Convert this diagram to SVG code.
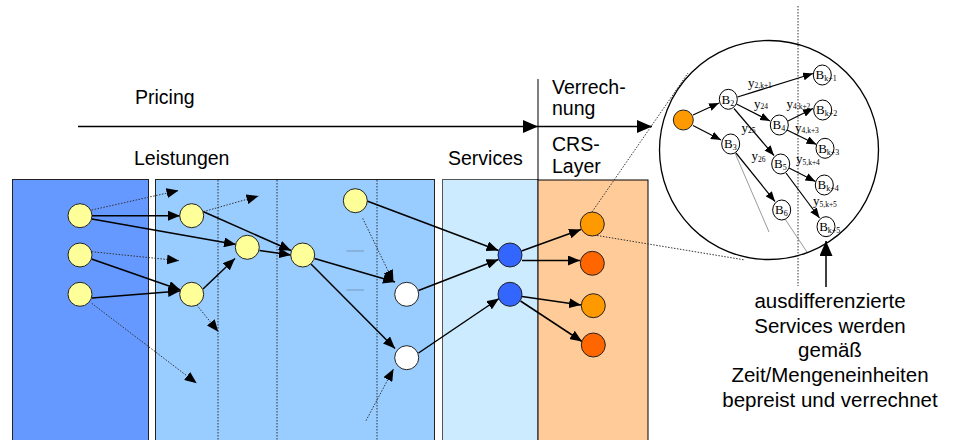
<svg xmlns="http://www.w3.org/2000/svg" width="954" height="440" viewBox="0 0 954 440">
  <defs>
    <style>
      .lbl { font-family: "Liberation Sans", Arial, sans-serif; font-size: 19.5px; fill: #000; }
      .note { font-family: "Liberation Sans", Arial, sans-serif; font-size: 20.5px; fill: #000; text-anchor: middle; }
      .ser { font-family: "Liberation Serif", "Times New Roman", serif; fill: #000; }
      .bn { font-size: 13px; }
      .bs { font-size: 8px; }
      .yl { font-size: 13px; }
      .ys { font-size: 7.5px; }
      .node { stroke: #222; stroke-width: 1; }
      .yel { fill: #FFFF99; }
      .wht { fill: #FFFFFF; }
      .blu { fill: #3366FF; }
      .org { fill: #FF9900; }
      .red { fill: #FF6600; }
      .bub { fill: #FFFFFF; stroke: #000; stroke-width: 1; }
      .solid { fill: none; stroke: #000; stroke-width: 1.5; marker-end: url(#ah); }
      .dot { fill: none; stroke: #333; stroke-width: 1; stroke-dasharray: 1.5 1.5; marker-end: url(#ah); }
      .thin { fill: none; stroke: #000; stroke-width: 1.2; marker-end: url(#ahs); }
      .guide { fill: none; stroke: #333; stroke-width: 1; stroke-dasharray: 1.5 1.5; }
      .hair { fill: none; stroke: #555; stroke-width: 0.6; }
    </style>
    <marker id="ah" markerUnits="userSpaceOnUse" markerWidth="12" markerHeight="10" refX="12" refY="5" orient="auto">
      <path d="M0,0 L12,5 L0,10 z" fill="#000"/>
    </marker>
    <marker id="ahs" markerUnits="userSpaceOnUse" markerWidth="10" markerHeight="8" refX="10" refY="4" orient="auto">
      <path d="M0,0 L10,4 L0,8 z" fill="#000"/>
    </marker>
    <marker id="ahb" markerUnits="userSpaceOnUse" markerWidth="15" markerHeight="13" refX="15" refY="6.5" orient="auto">
      <path d="M0,0 L15,6.5 L0,13 z" fill="#000"/>
    </marker>
  </defs>

  <rect width="954" height="440" fill="#FFFFFF"/>

  <!-- layer panels -->
  <g id="panels">
    <rect x="12.5" y="179.5" width="136" height="270" fill="#6699FF" stroke="#222" stroke-width="1"/>
    <rect x="155.5" y="179.5" width="279" height="270" fill="#99CCFF" stroke="#222" stroke-width="1"/>
    <rect x="442.5" y="179.5" width="95.5" height="270" fill="#CCEBFF" stroke="#555" stroke-width="1"/>
    <rect x="538" y="180" width="110" height="270" fill="#FFCC99" stroke="#000" stroke-width="1"/>
    <line class="guide" x1="218" y1="180" x2="218" y2="440"/>
    <line class="guide" x1="277" y1="180" x2="277" y2="440"/>
    <line class="guide" x1="377" y1="180" x2="377" y2="440"/>
  </g>

  <!-- headings and the pricing axis -->
  <g id="axis">
    <line x1="538" y1="79" x2="538" y2="180" stroke="#000" stroke-width="1"/>
    <line x1="78" y1="126.5" x2="538" y2="126.5" stroke="#000" stroke-width="1.5" marker-end="url(#ahb)"/>
    <line x1="538" y1="126.5" x2="652" y2="126.5" stroke="#000" stroke-width="1.5" marker-end="url(#ahb)"/>
    <text class="lbl" x="135" y="104">Pricing</text>
    <text class="lbl" x="134" y="165">Leistungen</text>
    <text class="lbl" x="448" y="165">Services</text>
    <text class="lbl" x="552" y="94">Verrech-</text>
    <text class="lbl" x="552" y="115">nung</text>
    <text class="lbl" x="552" y="151">CRS-</text>
    <text class="lbl" x="552" y="173">Layer</text>
  </g>

  <!-- connectors -->
  <g id="connectors">
    <line class="solid" x1="92" y1="215.7" x2="180" y2="215.7"/>
    <line class="solid" x1="92" y1="219" x2="236" y2="244.5"/>
    <line class="solid" x1="91.5" y1="259" x2="180.5" y2="290"/>
    <line class="solid" x1="92" y1="298" x2="180" y2="291"/>
    <line class="solid" x1="203" y1="289" x2="235" y2="258.5"/>
    <line class="solid" x1="203" y1="211.5" x2="291" y2="250.5"/>
    <line class="solid" x1="259.5" y1="250.5" x2="291" y2="255"/>
    <line class="solid" x1="314.5" y1="258.5" x2="395" y2="282"/>
    <line class="solid" x1="311" y1="264" x2="395" y2="348.5"/>
    <line class="solid" x1="367" y1="201" x2="498.5" y2="250.5"/>
    <line class="solid" x1="418.5" y1="290.5" x2="498.5" y2="259.5"/>
    <line class="solid" x1="418.5" y1="353" x2="499" y2="298.5"/>
    <line class="solid" x1="521.5" y1="251" x2="581" y2="229.5"/>
    <line class="solid" x1="522" y1="260.5" x2="580" y2="260.5"/>
    <line class="solid" x1="522" y1="296.5" x2="581" y2="305"/>
    <line class="solid" x1="520.5" y1="301" x2="582" y2="341.5"/>

    <line class="dot" x1="91.7" y1="210" x2="178.5" y2="190.5"/>
    <line class="dot" x1="91.7" y1="251.7" x2="179" y2="260.7"/>
    <line class="dot" x1="91.7" y1="303.3" x2="196.7" y2="383.3"/>
    <line class="dot" x1="203.3" y1="211.7" x2="258.5" y2="196"/>
    <line class="dot" x1="196.7" y1="305" x2="218.3" y2="331.7"/>
    <line class="dot" x1="362.7" y1="218.3" x2="393.5" y2="282"/>
    <line class="dot" x1="366" y1="420.7" x2="393.5" y2="369"/>
    <line x1="346.5" y1="251" x2="364" y2="251" stroke="#7799BB" stroke-width="1"/>
    <line x1="346.5" y1="290" x2="364" y2="290" stroke="#7799BB" stroke-width="1"/>

    <!-- magnifier guides -->
    <line class="guide" x1="592" y1="212" x2="688" y2="73"/>
    <line class="guide" x1="597" y1="235.5" x2="745" y2="260"/>
    <line class="guide" x1="798" y1="6" x2="798" y2="286"/>
    <line x1="826" y1="287" x2="826" y2="241" stroke="#000" stroke-width="1.5" marker-end="url(#ahb)"/>

    <!-- edges inside the magnifier -->
    <line class="thin" x1="693" y1="115" x2="719" y2="103"/>
    <line class="thin" x1="693" y1="125.5" x2="721" y2="140"/>
    <line class="thin" x1="737.5" y1="97" x2="813" y2="73.5"/>
    <line class="thin" x1="736.5" y1="104" x2="770" y2="121"/>
    <line class="thin" x1="734" y1="108.5" x2="774" y2="155.5"/>
    <line class="thin" x1="736" y1="153" x2="775" y2="201.5"/>
    <line class="thin" x1="788" y1="121" x2="813" y2="108.5"/>
    <line class="thin" x1="787" y1="130" x2="816.5" y2="144.5"/>
    <line class="thin" x1="789" y1="168" x2="815.5" y2="181.5"/>
    <line class="thin" x1="786" y1="173" x2="819.5" y2="218"/>
    <line class="hair" x1="735" y1="153" x2="769" y2="232"/>
    <line class="hair" x1="785" y1="219" x2="807" y2="252"/>
  </g>

  <!-- nodes of the layer view -->
  <g id="leistung-1"><circle class="node yel" cx="80" cy="215.7" r="12"/></g>
  <g id="leistung-2"><circle class="node yel" cx="80" cy="255" r="12"/></g>
  <g id="leistung-3"><circle class="node yel" cx="80" cy="294.3" r="12"/></g>
  <g id="leistung-4"><circle class="node yel" cx="191.7" cy="215.7" r="12"/></g>
  <g id="leistung-5"><circle class="node yel" cx="247.3" cy="247.3" r="12"/></g>
  <g id="leistung-6"><circle class="node yel" cx="191.7" cy="294.3" r="12"/></g>
  <g id="leistung-7"><circle class="node yel" cx="302.7" cy="255" r="12"/></g>
  <g id="leistung-8"><circle class="node yel" cx="355.3" cy="200.7" r="12"/></g>
  <g id="leistung-9"><circle class="node wht" cx="406.7" cy="294.3" r="12"/></g>
  <g id="leistung-10"><circle class="node wht" cx="406.7" cy="357.7" r="12"/></g>
  <g id="service-1"><circle class="node blu" cx="510" cy="255" r="12"/></g>
  <g id="service-2"><circle class="node blu" cx="510" cy="294.3" r="12"/></g>
  <g id="crs-1"><circle class="node org" cx="592.3" cy="224" r="12"/></g>
  <g id="crs-2"><circle class="node red" cx="592.3" cy="263.3" r="12"/></g>
  <g id="crs-3"><circle class="node org" cx="593.3" cy="305.7" r="12"/></g>
  <g id="crs-4"><circle class="node red" cx="593.3" cy="345" r="12"/></g>

  <!-- magnifier -->
  <g id="magnifier">
    <circle cx="769" cy="150" r="109.5" fill="none" stroke="#000" stroke-width="1.3"/>
  </g>
  <g id="m-root"><circle class="node org" cx="683.3" cy="120" r="10"/></g>
  <g id="m-b2"><ellipse class="bub" cx="728.3" cy="99.3" rx="9" ry="10"/><text class="ser" x="721.5" y="103.5"><tspan class="bn">B</tspan><tspan class="bs" dy="2">2</tspan></text></g>
  <g id="m-b3"><ellipse class="bub" cx="730.7" cy="144" rx="9" ry="10"/><text class="ser" x="724" y="148.2"><tspan class="bn">B</tspan><tspan class="bs" dy="2">3</tspan></text></g>
  <g id="m-b4"><ellipse class="bub" cx="779.3" cy="125" rx="9" ry="10"/><text class="ser" x="772.5" y="129.2"><tspan class="bn">B</tspan><tspan class="bs" dy="2">4</tspan></text></g>
  <g id="m-b5"><ellipse class="bub" cx="780.7" cy="164" rx="9" ry="10"/><text class="ser" x="774" y="168.2"><tspan class="bn">B</tspan><tspan class="bs" dy="2">5</tspan></text></g>
  <g id="m-b6"><ellipse class="bub" cx="781.7" cy="210" rx="9" ry="10"/><text class="ser" x="775" y="214.2"><tspan class="bn">B</tspan><tspan class="bs" dy="2">6</tspan></text></g>
  <g id="m-bk1"><ellipse class="bub" cx="822.3" cy="75" rx="9" ry="10"/><text class="ser" x="815.5" y="79.2"><tspan class="bn">B</tspan><tspan class="bs" dy="2">k+1</tspan></text></g>
  <g id="m-bk2"><ellipse class="bub" cx="822.7" cy="110" rx="9" ry="10"/><text class="ser" x="816" y="114.2"><tspan class="bn">B</tspan><tspan class="bs" dy="2">k+2</tspan></text></g>
  <g id="m-bk3"><ellipse class="bub" cx="825" cy="148.3" rx="9" ry="10"/><text class="ser" x="818.2" y="152.5"><tspan class="bn">B</tspan><tspan class="bs" dy="2">k+3</tspan></text></g>
  <g id="m-bk4"><ellipse class="bub" cx="824.3" cy="185" rx="9" ry="10"/><text class="ser" x="817.5" y="189.2"><tspan class="bn">B</tspan><tspan class="bs" dy="2">k+4</tspan></text></g>
  <g id="m-bk5"><ellipse class="bub" cx="826" cy="226.7" rx="9" ry="10"/><text class="ser" x="819.2" y="230.9"><tspan class="bn">B</tspan><tspan class="bs" dy="2">k+5</tspan></text></g>

  <!-- edge weights -->
  <g id="weights">
    <text class="ser" x="748" y="86.5"><tspan class="yl">y</tspan><tspan class="ys" dy="1.5">2,k+1</tspan></text>
    <text class="ser" x="754" y="107.5"><tspan class="yl">y</tspan><tspan class="ys" dy="1.5">24</tspan></text>
    <text class="ser" x="786.5" y="107.5"><tspan class="yl">y</tspan><tspan class="ys" dy="1.5">4,k+2</tspan></text>
    <text class="ser" x="741.5" y="131.5"><tspan class="yl">y</tspan><tspan class="ys" dy="1.5">25</tspan></text>
    <text class="ser" x="795" y="131.5"><tspan class="yl">y</tspan><tspan class="ys" dy="1.5">4,k+3</tspan></text>
    <text class="ser" x="751.5" y="160"><tspan class="yl">y</tspan><tspan class="ys" dy="1.5">26</tspan></text>
    <text class="ser" x="796" y="163"><tspan class="yl">y</tspan><tspan class="ys" dy="1.5">5,k+4</tspan></text>
    <text class="ser" x="813" y="205"><tspan class="yl">y</tspan><tspan class="ys" dy="1.5">5,k+5</tspan></text>
  </g>

  <!-- caption -->
  <g id="caption">
    <text class="note" x="830" y="308">ausdifferenzierte</text>
    <text class="note" x="830" y="333">Services werden</text>
    <text class="note" x="830" y="357">gemäß</text>
    <text class="note" x="830" y="382">Zeit/Mengeneinheiten</text>
    <text class="note" x="830" y="407">bepreist und verrechnet</text>
  </g>
</svg>
